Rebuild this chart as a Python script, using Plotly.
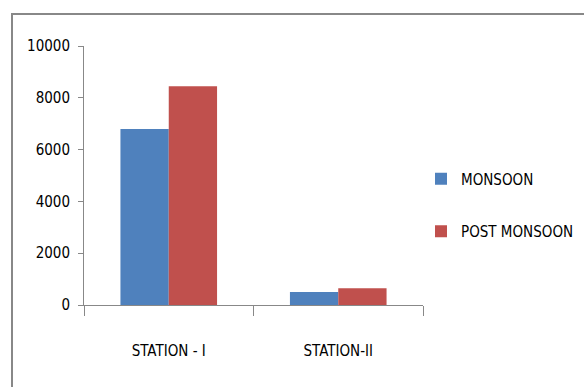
import plotly.graph_objects as go

categories = ["STATION - I", "STATION-II"]
monsoon = [6800, 500]
post_monsoon = [8450, 650]
series_names = ["MONSOON", "POST MONSOON"]
y_ticks = [0, 2000, 4000, 6000, 8000, 10000]
y_tick_text = ["0", "2000", "4000", "6000", "8000", "10000"]

W, H = 584, 387
L, R, T, B = 84, 423, 46, 305  # plot area in px

FONT = "DejaVu Sans Condensed, Liberation Sans Narrow, Arial Narrow, sans-serif"
FS = 15

fig = go.Figure()
fig.add_trace(go.Bar(x=categories, y=monsoon, name=series_names[0],
                     marker=dict(color="#4F81BD", line=dict(width=0)),
                     legendgroup="a"))
fig.add_trace(go.Bar(x=categories, y=post_monsoon, name=series_names[1],
                     marker=dict(color="#C0504D", line=dict(width=0)),
                     legendgroup="b"))

pw, ph = R - L, B - T
def px_x(v):
    return (v - L) / pw
def px_y(v):
    return (B - v) / ph

fig.update_layout(
    width=W, height=H,
    margin=dict(l=L, r=W - R, t=T, b=H - B, pad=0, autoexpand=False),
    paper_bgcolor="white", plot_bgcolor="white",
    font=dict(family=FONT, size=FS, color="#000"),
    barmode="group", bargap=0.43, bargroupgap=0,
    showlegend=True,
    legend=dict(x=px_x(421), y=px_y(205), xanchor="left", yanchor="middle",
                traceorder="grouped", tracegroupgap=30,
                font=dict(family=FONT, size=FS, color="#000"),
                bgcolor="rgba(0,0,0,0)", itemwidth=30),
    xaxis=dict(type="category", range=[-0.5, 1.5], showline=True,
               linecolor="#888", linewidth=1, ticks="outside",
               tickson="boundaries", ticklen=10, tickcolor="#888",
               showgrid=False, zeroline=False, ticklabelstandoff=32,
               tickfont=dict(family=FONT, size=FS, color="#000")),
    yaxis=dict(range=[0, 10000], tickvals=y_ticks, ticktext=y_tick_text,
               showline=True,
               linecolor="#888", linewidth=1, ticks="outside", ticklen=5,
               tickcolor="#888", showgrid=False, zeroline=False,
               ticklabelstandoff=5,
               tickfont=dict(family=FONT, size=FS, color="#000")),
    shapes=[dict(type="rect", xref="paper", yref="paper",
                 x0=px_x(12), x1=px_x(590), y0=px_y(395), y1=px_y(14),
                 line=dict(color="#888", width=2), fillcolor="rgba(0,0,0,0)",
                 layer="below")],
)

fig.write_html("out.html")
